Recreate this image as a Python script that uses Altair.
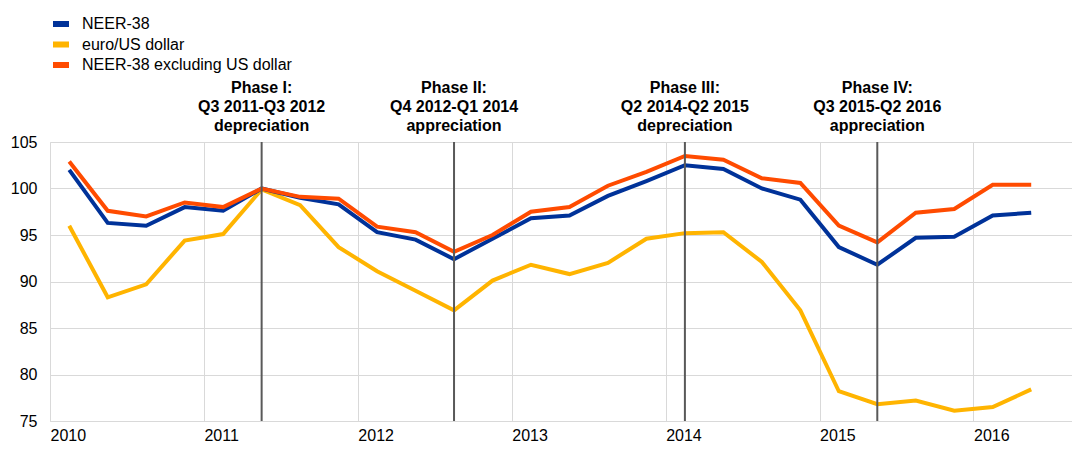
import altair as alt
import pandas as pd

# Quarterly data, 2010 Q1 - 2016 Q2
years = [2010, 2011, 2012, 2013, 2014, 2015, 2016]
quarters = [f"{y}Q{q}" for y in years for q in range(1, 5)][:26]

neer38 = [102.0, 96.3, 96.0, 98.0, 97.6, 100.0, 99.0, 98.3, 95.3, 94.5,
          92.4, 94.6, 96.8, 97.1, 99.2, 100.8, 102.5, 102.1, 100.0, 98.8,
          93.7, 91.8, 94.7, 94.8, 97.1, 97.4]
eurusd = [96.0, 88.3, 89.7, 94.4, 95.1, 99.9, 98.2, 93.7, 91.1, 89.0,
          86.9, 90.1, 91.8, 90.8, 92.0, 94.6, 95.2, 95.3, 92.1, 86.9,
          78.2, 76.8, 77.2, 76.1, 76.5, 78.4]
neer38_ex_usd = [102.9, 97.6, 97.0, 98.5, 98.0, 100.0, 99.1, 98.9, 95.9, 95.3,
                 93.2, 95.0, 97.5, 98.0, 100.3, 101.8, 103.5, 103.1, 101.1, 100.6,
                 96.0, 94.2, 97.4, 97.8, 100.4, 100.4]

series_names = ["NEER-38", "euro/US dollar", "NEER-38 excluding US dollar"]
series_colors = ["#003299", "#FFB400", "#FF4B00"]

phase_quarters = ["2011Q2", "2012Q3", "2014Q1", "2015Q2"]
phase_labels = [
    "Phase I:\nQ3 2011-Q3 2012\ndepreciation",
    "Phase II:\nQ4 2012-Q1 2014\nappreciation",
    "Phase III:\nQ2 2014-Q2 2015\ndepreciation",
    "Phase IV:\nQ3 2015-Q2 2016\nappreciation",
]


def qpos(q):
    y = int(q[:4])
    n = int(q[-1])
    return y + (n - 0.5) / 4


rows = []
for name, vals in zip(series_names, [neer38, eurusd, neer38_ex_usd]):
    for q, v in zip(quarters, vals):
        rows.append({"t": qpos(q), "value": v, "series": name})
df = pd.DataFrame(rows)

phase_df = pd.DataFrame({"t": [qpos(q) for q in phase_quarters], "label": phase_labels})

FONT = "Liberation Sans"

x_enc = alt.X("t:Q",
              scale=alt.Scale(domain=[2010, 2016.64], nice=False, zero=False),
              axis=alt.Axis(values=years, format="d", labelAlign="left",
                            labelFlush=False, labelPadding=6, tickSize=0,
                            grid=True, gridColor="#d9d9d9", domainColor="#d9d9d9",
                            labelFontSize=16, labelFont=FONT, labelColor="#000000",
                            title=None))
y_enc = alt.Y("value:Q",
              scale=alt.Scale(domain=[75, 105], nice=False, zero=False),
              axis=alt.Axis(values=[75, 80, 85, 90, 95, 100, 105], tickSize=0,
                            labelPadding=13, grid=True, gridColor="#d9d9d9",
                            domainColor="#d9d9d9", labelFontSize=16, labelFont=FONT,
                            labelColor="#000000", title=None))
color_enc = alt.Color("series:N",
                      scale=alt.Scale(domain=series_names, range=series_colors),
                      legend=alt.Legend(orient="none", legendX=0, legendY=-126,
                                        symbolType="stroke", symbolStrokeWidth=6,
                                        symbolSize=256, labelFontSize=16,
                                        labelFont=FONT, labelColor="#000000",
                                        labelLimit=400, clipHeight=16,
                                        labelOffset=10, rowPadding=4.5, padding=0),
                      title=None)

base = alt.Chart(df)
layers = []
for name in ["euro/US dollar", "NEER-38", "NEER-38 excluding US dollar"]:
    layers.append(
        base.transform_filter(alt.datum.series == name)
        .mark_line(strokeWidth=4)
        .encode(x=x_enc, y=y_enc, color=color_enc)
    )

rules = alt.Chart(phase_df).mark_rule(color="#595959", strokeWidth=2).encode(x="t:Q")

texts = alt.Chart(phase_df).mark_text(
    font=FONT, fontSize=16, fontWeight="bold", lineBreak="\n", lineHeight=19,
    baseline="top", align="center", color="#000000"
).encode(x="t:Q", y=alt.value(-62), text="label:N")

chart = alt.layer(*layers, rules, texts).properties(
    width=1022, height=279,
    autosize=alt.AutoSizeParams(type="none"),
    padding={"left": 42, "top": 134, "right": 0, "bottom": 23},
).configure_view(stroke=None)

chart.save("out.html", embed_options={"renderer": "svg", "actions": False})
